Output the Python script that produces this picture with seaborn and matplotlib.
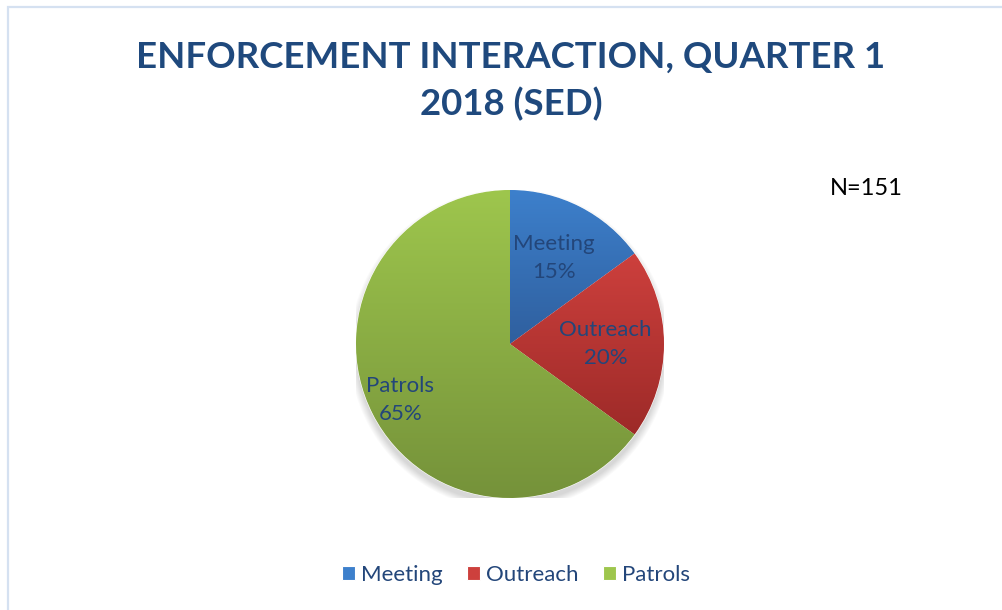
import numpy as np
import matplotlib
matplotlib.use("Agg")
import matplotlib.pyplot as plt
import matplotlib.colors as mcolors
from matplotlib.patches import Rectangle
import seaborn as sns

# ---------- DATA ----------
categories = ["Meeting", "Outreach", "Patrols"]
shares = [15, 20, 65]
top_colors = ["#3d80cc", "#cd403d", "#9ec64d"]
bottom_colors = ["#2f5f9e", "#9d2a28", "#75923a"]
label_radius = [0.63, 0.62, 0.8]
title = "ENFORCEMENT INTERACTION, QUARTER 1\n2018 (SED)"
note = "N=151"
# --------------------------

sns.set_style("white")
plt.rcParams["font.family"] = ["Lato", "DejaVu Sans"]

TEXT_BLUE = "#23467a"
W, H = 1002, 610
fig = plt.figure(figsize=(W / 100, H / 100), dpi=100)

# chart frame (only top and left edge visible in the crop)
fig.add_artist(Rectangle((8 / W, -0.05), 1.2, (H - 7) / H + 0.05,
                         transform=fig.transFigure, fill=False,
                         edgecolor="#d5e1f1", linewidth=1.6))

cx, cy, r = 510, 344, 154
ax = fig.add_axes([(cx - r) / W, (H - cy - r) / H, 2 * r / W, 2 * r / H])

# soft shadow under the pie
for i in range(8):
    ax.add_patch(plt.Circle((0.0, -0.035), 1.0 + 0.006 * i, color="black",
                            alpha=0.018, zorder=0, linewidth=0))

wedges, _ = ax.pie(shares, colors=top_colors, startangle=90, counterclock=False,
                   wedgeprops=dict(linewidth=0.8, edgecolor="white"))

# vertical gradient fill inside each slice
for w, c_top, c_bot in zip(wedges, top_colors, bottom_colors):
    ext = w.get_path().get_extents()
    cmap = mcolors.LinearSegmentedColormap.from_list("g", [c_bot, c_top])
    grad = np.linspace(0, 1, 256).reshape(-1, 1)
    im = ax.imshow(grad, cmap=cmap, origin="lower", aspect="auto",
                   extent=(ext.x0, ext.x1, ext.y0, ext.y1), zorder=1.5,
                   interpolation="bicubic")
    im.set_clip_path(w)

for w, name, pct, rr in zip(wedges, categories, shares, label_radius):
    ang = np.deg2rad((w.theta1 + w.theta2) / 2)
    ax.text(rr * np.cos(ang), rr * np.sin(ang), f"{name}\n{pct}%",
            ha="center", va="center", fontsize=16, color=TEXT_BLUE,
            linespacing=1.5, zorder=3)

ax.set_xlim(-1, 1)
ax.set_ylim(-1, 1)
ax.set_aspect("equal")
ax.axis("off")

fig.text(511 / W, 1 - 81 / H, title, ha="center", va="center", fontsize=26.4,
         fontweight="bold", color="#1f497d", linespacing=1.45)
fig.text(866 / W, 1 - 189 / H, note, ha="center", va="center", fontsize=17,
         color="black")

fig.legend(wedges, categories, loc="center", bbox_to_anchor=(516 / W, 1 - 575 / H),
           ncol=3, frameon=False, fontsize=16, labelcolor=TEXT_BLUE,
           handlelength=0.6, handleheight=0.6, handletextpad=0.25,
           columnspacing=1.1)

fig.savefig("out.png", dpi=100)
